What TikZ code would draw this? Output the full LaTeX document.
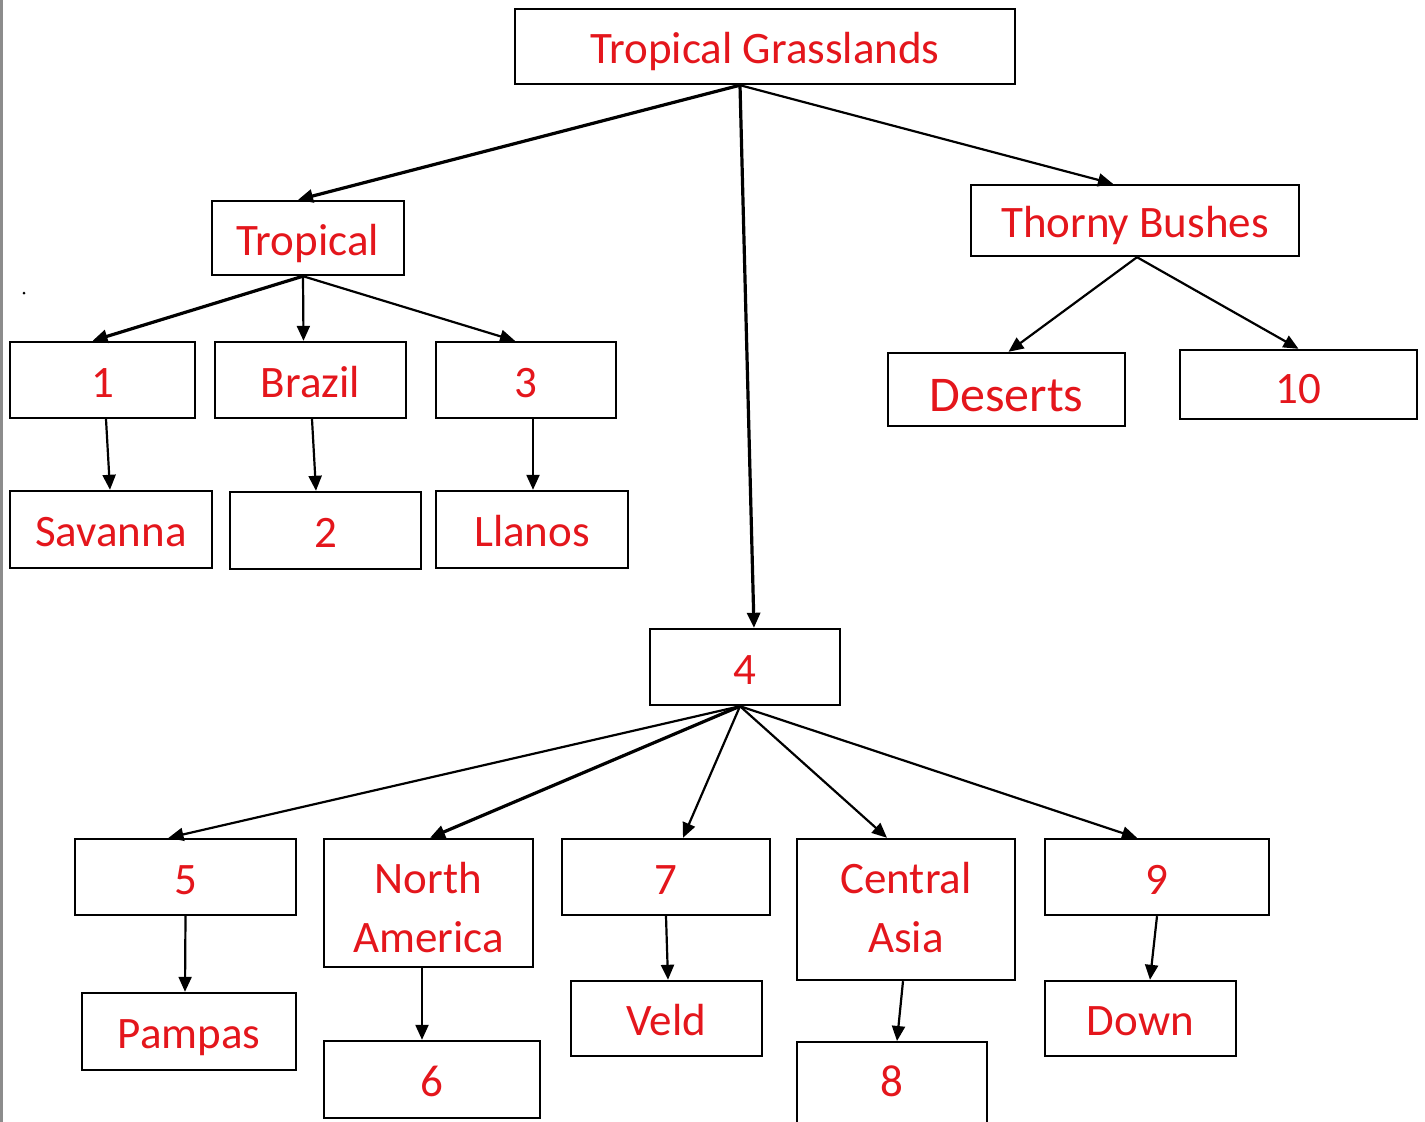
\documentclass[tikz,border=0pt]{standalone}
\usepackage{fontspec}
\setmainfont{Carlito}
\usetikzlibrary{arrows.meta}
\definecolor{txtred}{RGB}{228,22,28}
\tikzset{
  box/.style={draw=black, line width=2.4pt, rectangle, inner sep=0pt, text=txtred,
    font=\fontsize{45}{59}\selectfont, align=center, text height=34pt, text depth=0pt},
  twoline/.style={draw=black, line width=2.4pt, rectangle, inner sep=0pt, text=txtred,
    font=\fontsize{45}{59}\selectfont, align=center},
  conn/.style={line width=2.2pt, -{Triangle[length=15pt,width=13pt]}},
  thick conn/.style={conn, line width=3.2pt},
}
\begin{document}
\begin{tikzpicture}[x=1pt,y=-1pt]
\useasboundingbox (0,0) rectangle (1425,1122);
\fill[white] (0,0) rectangle (1425,1122);
\fill[black!45] (0,0) rectangle (3,1122);
\fill[black] (24,293) circle (1.5);

\node[box, minimum width=500pt, minimum height=75pt] (top) at (765,46.5) {Tropical Grasslands};
\node[box, minimum width=192pt, minimum height=74pt] (trop) at (308,238) {Tropical};
\node[box, minimum width=328pt, minimum height=71pt] (thorny) at (1135,220.5) {Thorny Bushes};
\node[box, minimum width=185pt, minimum height=76pt] (n1) at (102.5,380) {1};
\node[box, minimum width=191pt, minimum height=76pt] (brazil) at (310.5,380) {Brazil};
\node[box, minimum width=180pt, minimum height=76pt] (n3) at (526,380) {3};
\node[box, minimum width=202pt, minimum height=77pt] (savanna) at (111,529.5) {Savanna};
\node[box, minimum width=191pt, minimum height=77pt] (n2) at (325.5,530.5) {2};
\node[box, minimum width=192pt, minimum height=77pt] (llanos) at (532,529.5) {Llanos};
\node[box, minimum width=237pt, minimum height=73pt, font=\fontsize{50}{59}\selectfont, text height=43pt] (deserts) at (1006.5,389.5) {Deserts};
\node[box, minimum width=237pt, minimum height=69pt, text height=37pt] (n10) at (1298.5,384.5) {10};
\node[box, minimum width=190pt, minimum height=76pt] (n4) at (745,667) {4};
\node[box, minimum width=221pt, minimum height=76pt] (n5) at (185.5,877) {5};
\node[twoline, minimum width=209pt, minimum height=128pt] (na) at (428.5,903) {\rule{0pt}{49pt}North\\America\rule[-10pt]{0pt}{10pt}};
\node[box, minimum width=208pt, minimum height=76pt] (n7) at (666,877) {7};
\node[twoline, minimum width=218pt, minimum height=141pt] (ca) at (906,909.5) {\rule{0pt}{36pt}Central\\Asia\rule[-10pt]{0pt}{10pt}};
\node[box, minimum width=224pt, minimum height=76pt] (n9) at (1157,877) {9};
\node[box, minimum width=214pt, minimum height=77pt] (pampas) at (189,1031.5) {Pampas};
\node[box, minimum width=216pt, minimum height=77pt] (n6) at (432,1079.5) {6};
\node[box, minimum width=191pt, minimum height=75pt] (veld) at (666.5,1018.5) {Veld};
\node[box, minimum width=190pt, minimum height=95pt, anchor=north, text height=0pt] (n8) at (892,1041) {};
\node[box, draw=none, minimum width=190pt, minimum height=76pt] (n8t) at (892,1079) {8};
\node[box, minimum width=191pt, minimum height=75pt] (down) at (1140.5,1018.5) {Down};

% level 1
\draw[thick conn] ([xshift=-25pt]top.south) -- ([xshift=-10pt]trop.north);
\draw[thick conn] ([xshift=-25pt]top.south) -- ([xshift=9pt]n4.north);
\draw[conn] ([xshift=-25pt]top.south) -- ([xshift=-22pt]thorny.north);
% tropical
\draw[thick conn] ([xshift=-5pt]trop.south) -- ([xshift=-10pt]n1.north);
\draw[conn] ([xshift=-5pt]trop.south) -- ([xshift=-7pt]brazil.north);
\draw[conn] ([xshift=-5pt]trop.south) -- ([xshift=-11pt]n3.north);
\draw[conn] ([xshift=3.5pt]n1.south) -- ([xshift=-1pt]savanna.north);
\draw[conn] ([xshift=1.5pt]brazil.south) -- ([xshift=-9.5pt]n2.north);
\draw[conn] ([xshift=7pt]n3.south) -- ([xshift=1pt]llanos.north);
% thorny
\draw[conn] ([xshift=2pt]thorny.south) -- ([xshift=2pt]deserts.north);
\draw[conn] ([xshift=2pt]thorny.south) -- (n10.north);
% 4
\draw[conn] ([xshift=-5pt]n4.south) -- ([xshift=-17pt]n5.north);
\draw[thick conn] ([xshift=-5pt]n4.south) -- ([xshift=1.5pt]na.north);
\draw[conn] ([xshift=-5pt]n4.south) -- ([xshift=17pt]n7.north);
\draw[conn] ([xshift=-5pt]n4.south) -- ([xshift=-19pt]ca.north);
\draw[conn] ([xshift=-5pt]n4.south) -- ([xshift=-20pt]n9.north);
\draw[conn] (n5.south) -- ([xshift=-4pt]pampas.north);
\draw[conn] ([xshift=-6.5pt]na.south) -- ([xshift=-10pt]n6.north);
\draw[conn] (n7.south) -- ([xshift=1.5pt]veld.north);
\draw[conn] ([xshift=-3pt]ca.south) -- ([xshift=5pt]n8.north);
\draw[conn] (n9.south) -- ([xshift=9.5pt]down.north);
\end{tikzpicture}
\end{document}
